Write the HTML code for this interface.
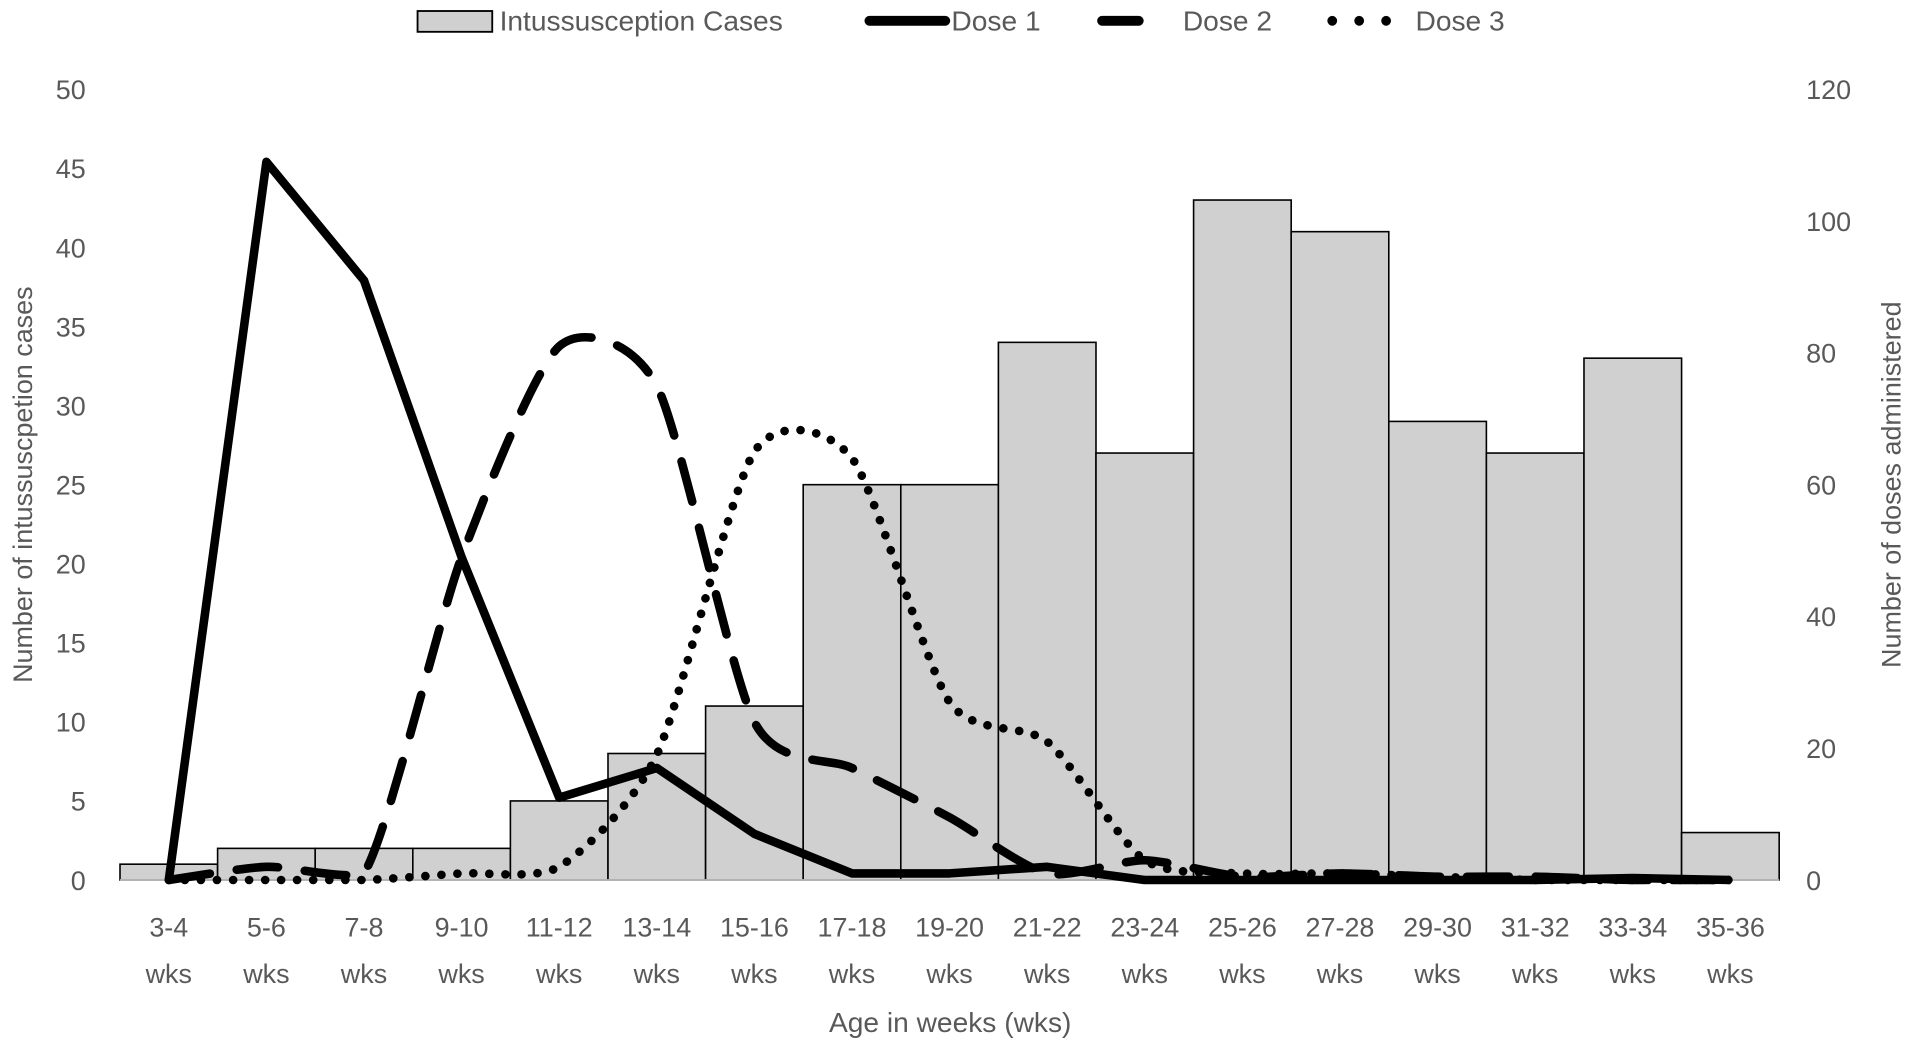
<!DOCTYPE html>
<html><head><meta charset="utf-8"><style>
html,body{margin:0;padding:0;background:#fff;}
svg{display:block;}
text{font-family:"Liberation Sans",sans-serif;fill:#595959;}
</style></head><body>
<svg id="c" width="1920" height="1044" viewBox="0 0 1568 853" preserveAspectRatio="none" xmlns="http://www.w3.org/2000/svg">
<rect width="1568" height="853" fill="#fff"/>
<g id="bars"></g>
<line x1="98" y1="719" x2="1453" y2="719" stroke="#bfbfbf" stroke-width="1.5"/>
<g id="lines" fill="none" stroke="#000" stroke-width="7"></g>
<g id="labels" font-size="22"></g>
<text x="26" y="396" font-size="22" text-anchor="middle" transform="rotate(-90 26 396)">Number of intussuscpetion cases</text>
<text x="1552" y="396" font-size="22" text-anchor="middle" transform="rotate(-90 1552 396)">Number of doses administered</text>
<text x="776" y="843" font-size="23" text-anchor="middle">Age in weeks (wks)</text>
<rect x="341" y="9" width="61" height="17" fill="#d0d0d0" stroke="#000" stroke-width="1.5"/>
<text x="408" y="25" font-size="23">Intussusception Cases</text>
<line x1="710" y1="17" x2="772" y2="17" stroke="#000" stroke-width="8" stroke-linecap="round"/>
<text x="777" y="25" font-size="23">Dose 1</text>
<line x1="900" y1="17" x2="930" y2="17" stroke="#000" stroke-width="8" stroke-linecap="round"/>
<text x="966" y="25" font-size="23">Dose 2</text>
<g fill="#000"><circle cx="1088" cy="17" r="4"/><circle cx="1110" cy="17" r="4"/><circle cx="1132" cy="17" r="4"/></g>
<text x="1156" y="25" font-size="23">Dose 3</text>
</svg>
<script>
const NS="http://www.w3.org/2000/svg";
const L=98,R=1453,Y0=719,YT=73,n=17,w=(R-L)/n;
const bars=[1,2,2,2,5,8,11,25,25,34,27,43,41,29,27,33,3];
const cats=["3-4","5-6","7-8","9-10","11-12","13-14","15-16","17-18","19-20","21-22","23-24","25-26","27-28","29-30","31-32","33-34","35-36"];
function el(t,a,p,txt){const e=document.createElementNS(NS,t);for(const k in a)e.setAttribute(k,a[k]);if(txt!=null)e.textContent=txt;document.getElementById(p).appendChild(e);return e;}
bars.forEach((v,i)=>{const h=v/50*(Y0-YT);el("rect",{x:L+i*w,y:Y0-h,width:w,height:h,fill:"#d0d0d0",stroke:"#000","stroke-width":1.3},"bars");});
for(let v=0;v<=50;v+=5){const y=Y0-v/50*(Y0-YT);el("text",{x:70,y:y+8,"text-anchor":"end"},"labels",v);}
for(let v=0;v<=120;v+=20){const y=Y0-v/120*(Y0-YT);el("text",{x:1475,y:y+8},"labels",v);}
cats.forEach((c,i)=>{const x=L+(i+.5)*w;el("text",{x:x,y:765,"text-anchor":"middle"},"labels",c);el("text",{x:x,y:803,"text-anchor":"middle"},"labels","wks");});
const d1=[0,109,91,49,12.5,17,7,1,1,2,0,0,0,0,0,0.3,0];
const d2=[0,2,1,49,81,75,24,17,9.5,1,3,0.5,1,0.5,0.5,0,0];
const d3=[0,0,0,1,2,19,65,64,27,21,3,1,1,0.5,0,0,0];
function pts(d){return d.map((v,i)=>[L+(i+.5)*w,Y0-v/120*(Y0-YT)]);}
function cl(y){return Math.min(Y0,y);}
function smooth(p){let s="M"+p[0][0]+","+p[0][1];for(let i=0;i<p.length-1;i++){const p0=p[i-1]||p[i],p1=p[i],p2=p[i+1],p3=p[i+2]||p2;const t=0.12;s+=` C${p1[0]+(p2[0]-p0[0])*t},${cl(p1[1]+(p2[1]-p0[1])*t)} ${p2[0]-(p3[0]-p1[0])*t},${cl(p2[1]-(p3[1]-p1[1])*t)} ${p2[0]},${p2[1]}`;}return s;}
function straight(p){return "M"+p.map(q=>q.join(",")).join(" L");}
el("path",{d:straight(pts(d1)),"stroke-linejoin":"round"},"lines");
el("path",{d:smooth(pts(d2)),"stroke-dasharray":"34 22","stroke-linecap":"round"},"lines");
el("path",{d:smooth(pts(d3)),"stroke-dasharray":"0.1 13","stroke-linecap":"round","stroke-width":7},"lines");
</script>
</body></html>
